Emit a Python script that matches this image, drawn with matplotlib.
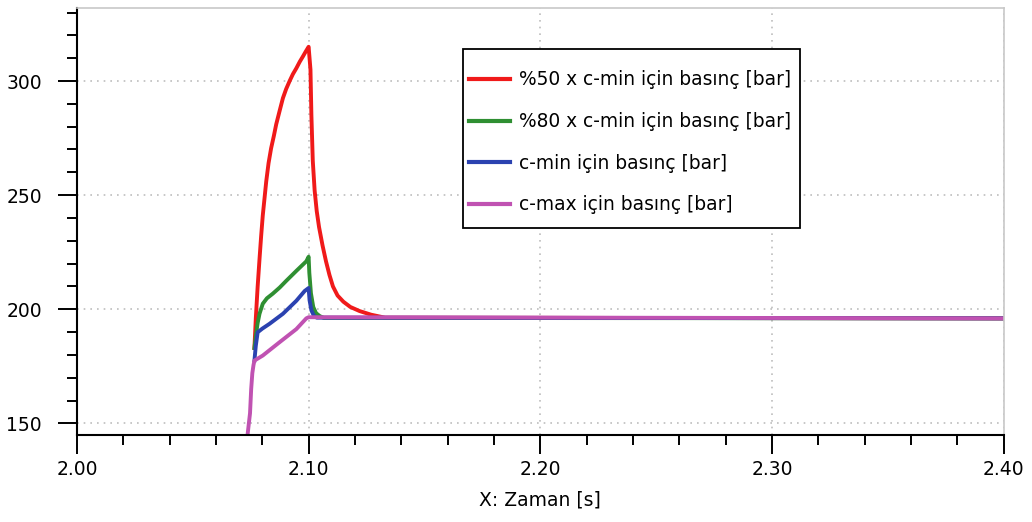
import matplotlib
matplotlib.use("Agg")
import matplotlib.pyplot as plt
from matplotlib.ticker import MultipleLocator
from matplotlib.patches import Rectangle

# ---- data ----
t_red = [2.0766, 2.0772, 2.0780, 2.0788, 2.0795, 2.0802, 2.0810, 2.0817, 2.0827,
         2.0838, 2.0850, 2.0860, 2.0875, 2.0889, 2.0903, 2.0918, 2.0932, 2.0947,
         2.0962, 2.0975, 2.0988, 2.1000, 2.1008, 2.1012, 2.1018, 2.1026, 2.1035,
         2.1045, 2.1060, 2.1075, 2.1090, 2.1105, 2.1125, 2.1150, 2.1180, 2.1220,
         2.1270, 2.1330, 2.4000]
p_red = [183.0, 196.0, 210.0, 222.0, 232.0, 241.0, 249.0, 256.0, 264.0,
         270.5, 276.0, 281.0, 287.0, 292.5, 296.5, 300.0, 303.0, 305.6,
         308.5, 310.7, 313.0, 315.0, 305.0, 285.0, 265.0, 252.0, 243.0,
         236.0, 228.0, 221.0, 215.0, 210.0, 206.0, 203.3, 201.0, 199.2,
         197.6, 196.3, 196.0]

t_green = [2.0766, 2.0773, 2.0780, 2.0788, 2.0802, 2.0820, 2.0845, 2.0875, 2.0903,
           2.0947, 2.0990, 2.1000, 2.1003, 2.1010, 2.1020, 2.1032, 2.1048, 2.1065,
           2.4000]
p_green = [183.0, 189.0, 194.0, 198.0, 202.4, 204.8, 206.8, 209.5, 212.4,
           216.8, 221.0, 223.0, 216.0, 207.0, 201.0, 198.3, 197.0, 196.2,
           196.0]

t_blue = [2.0766, 2.0772, 2.0780, 2.0800, 2.0831, 2.0889, 2.0947, 2.0983, 2.1000,
          2.1004, 2.1012, 2.1022, 2.1035, 2.4000]
p_blue = [177.5, 184.0, 189.9, 191.5, 193.6, 198.0, 203.7, 208.0, 209.3,
          204.0, 199.5, 197.3, 196.3, 196.0]

t_mag = [2.0737, 2.0742, 2.0747, 2.0752, 2.0757, 2.0762, 2.0766, 2.0802, 2.0874,
         2.0947, 2.0990, 2.1000, 2.4000]
p_mag = [145.5, 150.0, 154.4, 165.0, 172.0, 175.5, 177.5, 179.7, 185.5,
         191.3, 196.0, 196.5, 196.0]

labels = ["%50 x c-min için basınç [bar]",
          "%80 x c-min için basınç [bar]",
          "c-min için basınç [bar]",
          "c-max için basınç [bar]"]
colors = ["#f01a1a", "#2f8f32", "#2b42b0", "#c052b2"]

x_ticks = [2.00, 2.10, 2.20, 2.30, 2.40]
x_ticklabels = ["2.00", "2.10", "2.20", "2.30", "2.40"]
y_ticks = [150, 200, 250, 300]

plt.rcParams['font.family'] = ['DejaVu Sans']

fig = plt.figure(figsize=(10.32, 5.22), dpi=100)
ax = fig.add_axes([0.0746, 0.1667, 0.8978, 0.818])

series = [(t_red, p_red), (t_green, p_green), (t_blue, p_blue), (t_mag, p_mag)]
for (tt, pp), c, lab in zip(series, colors, labels):
    ax.plot(tt, pp, color=c, lw=2.8, label=lab, solid_joinstyle='round')

ax.set_xlim(2.00, 2.40)
ax.set_ylim(144.9, 332)
ax.set_xticks(x_ticks)
ax.set_xticklabels(x_ticklabels)
ax.set_yticks(y_ticks)
ax.xaxis.set_minor_locator(MultipleLocator(0.02))
ax.yaxis.set_minor_locator(MultipleLocator(10))

ax.tick_params(which='major', direction='out', length=13.7, width=1.4,
               labelsize=13.5, colors='black')
ax.tick_params(which='minor', direction='out', length=7.2, width=1.4)
ax.tick_params(axis='y', which='major', pad=11.5)
ax.tick_params(axis='x', which='major', pad=4.5)

ax.grid(True, which='major', linestyle=(0, (1, 3)), color='#bdbdbd', lw=1.2)

for s in ['left', 'bottom']:
    ax.spines[s].set_color('black')
    ax.spines[s].set_linewidth(1.5)
for s in ['top', 'right']:
    ax.spines[s].set_color('#c8c8c8')
    ax.spines[s].set_linewidth(1.2)

ax.set_xlabel("X: Zaman [s]", fontsize=13.5, labelpad=8)

# legend frame drawn separately for exact padding
frame = Rectangle((0.4169, 0.4841), 0.3634, 0.4192, transform=ax.transAxes,
                  facecolor='white', edgecolor='black', lw=1.3, zorder=4)
ax.add_patch(frame)

leg = ax.legend(loc='upper left', bbox_to_anchor=(0.4234, 0.8536),
                fontsize=13.4, frameon=False, borderaxespad=0, borderpad=0,
                handlelength=2.2, handletextpad=0.48, labelspacing=1.21)
leg.set_zorder(5)
for line in leg.get_lines():
    line.set_linewidth(3.0)

fig.savefig("out.png", dpi=100, facecolor='white')
